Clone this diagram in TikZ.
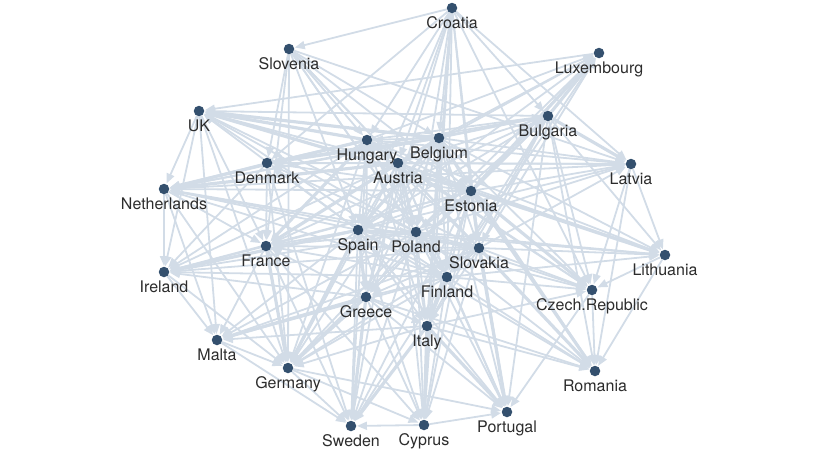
\documentclass[tikz,border=0pt]{standalone}
\usepackage{fontspec}
\setmainfont{TeX Gyre Heros}
\usetikzlibrary{arrows.meta,backgrounds}
\definecolor{dotblue}{HTML}{34506E}
\definecolor{linkblue}{HTML}{D2DCE7}
\definecolor{namegrey}{HTML}{2C2C2C}

\begin{document}
\begin{tikzpicture}[x=1pt,y=-1pt,
  country/.style={circle,fill=dotblue,inner sep=0pt,minimum size=10.5pt},
  every label/.style={font=\fontsize{16}{18}\selectfont,text=namegrey,inner sep=3pt},
  link/.style={color=linkblue,line width=1.8pt,{Triangle[length=10pt,width=8pt]}-,shorten <=0.5pt},
  heavy/.style={line width=3.2pt}]
\useasboundingbox (0,0) rectangle (840,453);
\node[country,label=below:Croatia] (cro) at (452,8) {};
\node[country,label=below:Slovenia] (slo) at (289,49) {};
\node[country,label=below:Luxembourg] (lux) at (599,53) {};
\node[country,label=below:UK] (uk) at (199,111) {};
\node[country,label=below:Bulgaria] (bul) at (548,116) {};
\node[country,label=below:Hungary] (hun) at (367,140) {};
\node[country,label=below:Belgium] (bel) at (439,138) {};
\node[country,label=below:Denmark] (den) at (267,163) {};
\node[country,label=below:Austria] (aus) at (398,163) {};
\node[country,label=below:Latvia] (lat) at (631,164) {};
\node[country,label=below:Netherlands] (net) at (164,189) {};
\node[country,label=below:Estonia] (est) at (471,191) {};
\node[country,label=below:Spain] (spa) at (358,230) {};
\node[country,label=below:Poland] (pol) at (416,232) {};
\node[country,label=below:France] (fra) at (266,246) {};
\node[country,label=below:Slovakia] (slk) at (479,248) {};
\node[country,label=below:Lithuania] (lit) at (665,255) {};
\node[country,label=below:Ireland] (ire) at (164,272) {};
\node[country,label=below:Finland] (fin) at (447,277) {};
\node[country,label=below:Czech.Republic] (cze) at (592,290) {};
\node[country,label=below:Greece] (gre) at (366,297) {};
\node[country,label=below:Italy] (ita) at (427,326) {};
\node[country,label=below:Malta] (mal) at (217,340) {};
\node[country,label=below:Germany] (ger) at (288,368) {};
\node[country,label=below:Romania] (rom) at (595,371) {};
\node[country,label=below:Portugal] (por) at (507,412) {};
\node[country,label=below:Sweden] (swe) at (351,426) {};
\node[country,label=below:Cyprus] (cyp) at (424,425) {};
\begin{scope}[on background layer]
% arrow tip sits at the first node of each \draw
\draw[link] (slo) edge (cro);
\draw[link] (lux) edge[heavy] (bul) edge (bel) edge[heavy] (est) edge (hun) edge (aus) edge (spa) edge (slk) edge (pol) edge (fin);
\draw[link] (uk) edge[heavy] (hun) edge[heavy] (bel) edge (aus) edge (bul) edge[heavy] (est) edge (spa) edge (pol) edge (slk) edge (lux) edge (fin);
\draw[link] (net) edge (uk) edge (den) edge[heavy] (hun) edge[heavy] (aus) edge (bel) edge (spa) edge (est) edge (pol) edge (slk) edge (bul) edge (lat) edge (fin);
\draw[link] (ire) edge (uk) edge (net) edge (fra) edge[heavy] (spa) edge (pol) edge (gre) edge (fin) edge (slk) edge (est) edge (aus) edge (den) edge (hun);
\draw[link] (den) edge (slo) edge (hun) edge (aus) edge[heavy] (bel) edge (est) edge (spa) edge (pol) edge (bul) edge (cro) edge (lat);
\draw[link] (fra) edge (uk) edge (den) edge (net) edge[heavy] (hun) edge (aus) edge[heavy] (bel) edge (spa) edge (pol) edge (est) edge (slk) edge (fin) edge (gre) edge (slo) edge (bul);
\draw[link] (mal) edge (ire) edge (net) edge (uk) edge (fra) edge (spa) edge[heavy] (gre) edge (pol) edge (fin) edge (ita) edge (slk);
\draw[link] (ger) edge (ire) edge (mal) edge (net) edge (uk) edge (den) edge[heavy] (fra) edge (hun) edge (aus) edge (bel) edge[heavy] (spa) edge (pol) edge (est) edge (slk) edge (fin) edge[heavy] (gre) edge (ita) edge (slo);
\draw[link] (swe) edge (ger) edge (mal) edge (fra) edge[heavy] (gre) edge (spa) edge (pol) edge[heavy] (ita) edge (fin) edge (cyp) edge (aus) edge (hun) edge (den) edge (est);
\draw[link] (cyp) edge (gre) edge[heavy] (ita) edge (fin) edge (pol) edge (spa) edge (slk) edge (est) edge (aus) edge (bel) edge (cro) edge (ger) edge (fra);
\draw[link] (por) edge (cyp) edge[heavy] (ita) edge (fin) edge (pol) edge[heavy] (slk) edge (est) edge (gre) edge (spa) edge (ger) edge (cze) edge (bul) edge (bel) edge (aus);
\draw[link] (rom) edge (cze) edge (lit) edge (lat) edge[heavy] (slk) edge (fin) edge[heavy] (est) edge (pol) edge (ita) edge (bul) edge (gre) edge (bel) edge (spa) edge (aus);
\draw[link] (cze) edge (lit) edge (lat) edge (slk) edge[heavy] (est) edge (bul) edge (pol) edge (fin) edge (bel) edge (aus) edge (ita) edge (spa) edge (hun) edge (cro);
\draw[link] (lit) edge (lat) edge[heavy] (est) edge (slk) edge (pol) edge (bul) edge (bel) edge (spa) edge (aus) edge (fin) edge (hun);
\draw[link] (lat) edge[heavy] (bul) edge (est) edge (bel) edge (slo) edge (aus) edge (hun) edge (pol) edge (spa) edge (slk) edge (cro);
\draw[link] (bul) edge (cro) edge (bel) edge (est) edge (hun) edge (aus);
\draw[link] (hun) edge (cro) edge (slo) edge (bel);
\draw[link] (bel) edge (cro) edge (slo);
\draw[link] (aus) edge (cro) edge (slo) edge (hun) edge (bel);
\draw[link] (est) edge (cro) edge (slo) edge (hun) edge (bel) edge (aus) edge (bul);
\draw[link] (spa) edge (cro) edge (slo) edge (hun) edge[heavy] (bel) edge (aus) edge (est) edge (bul);
\draw[link] (pol) edge (cro) edge (slo) edge (hun) edge (bel) edge[heavy] (aus) edge (est) edge (spa) edge (bul);
\draw[link] (slk) edge (cro) edge (slo) edge (hun) edge (bel) edge (aus) edge[heavy] (est) edge (spa) edge (pol) edge (bul);
\draw[link] (fin) edge (cro) edge (hun) edge (bel) edge (aus) edge (est) edge (spa) edge[heavy] (pol) edge (slk) edge (bul) edge (slo);
\draw[link] (gre) edge (hun) edge (bel) edge (aus) edge (est) edge[heavy] (spa) edge (pol) edge (slk) edge (fin) edge (cro) edge (bul);
\draw[link] (ita) edge (hun) edge (bel) edge (aus) edge (est) edge (spa) edge (pol) edge (slk) edge[heavy] (fin) edge (gre) edge (cro) edge (bul);
\end{scope}
\end{tikzpicture}
\end{document}
